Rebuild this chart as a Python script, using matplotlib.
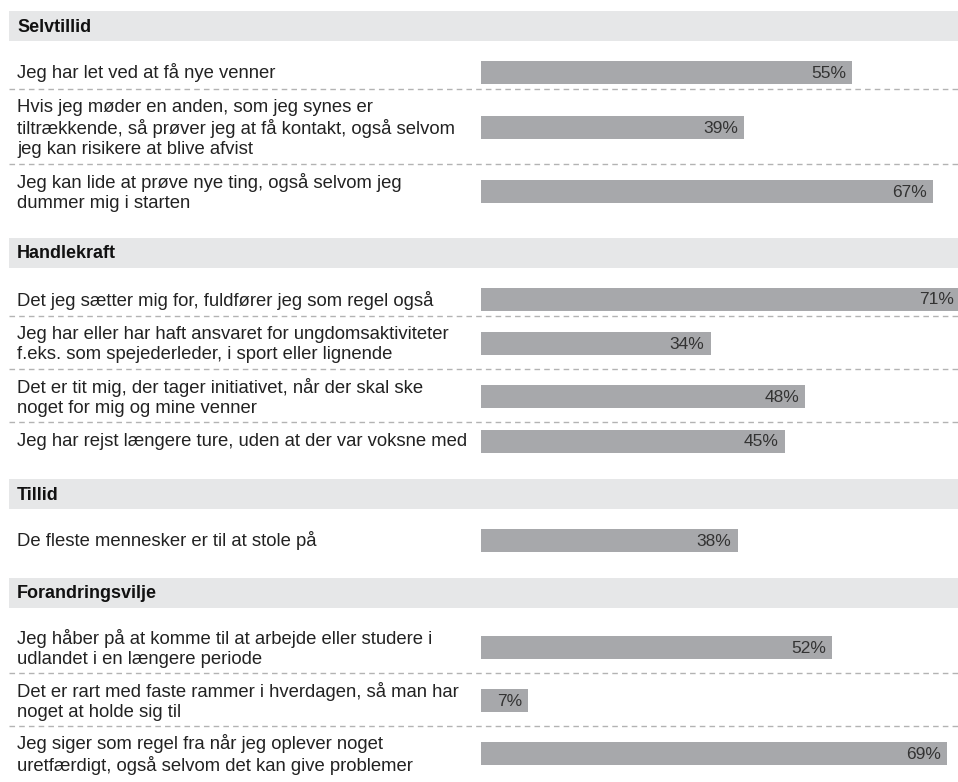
import matplotlib.pyplot as plt
from matplotlib.patches import Rectangle

plt.rcParams['font.family'] = ['Liberation Sans', 'DejaVu Sans']

sections = ["Selvtillid", "Handlekraft", "Tillid", "Forandringsvilje"]

labels = [
    ["Jeg har let ved at få nye venner",
     "Hvis jeg møder en anden, som jeg synes er\ntiltrækkende, så prøver jeg at få kontakt, også selvom\njeg kan risikere at blive afvist",
     "Jeg kan lide at prøve nye ting, også selvom jeg\ndummer mig i starten"],
    ["Det jeg sætter mig for, fuldfører jeg som regel også",
     "Jeg har eller har haft ansvaret for ungdomsaktiviteter\nf.eks. som spejederleder, i sport eller lignende",
     "Det er tit mig, der tager initiativet, når der skal ske\nnoget for mig og mine venner",
     "Jeg har rejst længere ture, uden at der var voksne med"],
    ["De fleste mennesker er til at stole på"],
    ["Jeg håber på at komme til at arbejde eller studere i\nudlandet i en længere periode",
     "Det er rart med faste rammer i hverdagen, så man har\nnoget at holde sig til",
     "Jeg siger som regel fra når jeg oplever noget\nuretfærdigt, også selvom det kan give problemer"],
]

values = [
    [55, 39, 67],
    [71, 34, 48, 45],
    [38],
    [52, 7, 69],
]

W, H = 958, 782
BAR_X0 = 481
PX_PER_PCT = 6.75

HEADER_BG = "#e6e7e8"
BAR_COLOR = "#a7a8ab"
TEXT_COLOR = "#222222"

fig = plt.figure(figsize=(W / 100, H / 100), dpi=100)
ax = fig.add_axes([0, 0, 1, 1])
ax.set_xlim(0, W)
ax.set_ylim(H, 0)
ax.axis("off")

axb = fig.add_axes([BAR_X0 / W, 0, (W - BAR_X0) / W, 1])
axb.set_xlim(0, (W - BAR_X0) / PX_PER_PCT)
axb.set_ylim(H, 0)
axb.axis("off")


def row_height(n):
    if n == 1:
        return 36
    return 9 + 22 * n


y = 11
for si, name in enumerate(sections):
    # grey section header
    ax.add_patch(Rectangle((9, y), W - 9, 30, color=HEADER_BG, lw=0))
    ax.text(17, y + 16, name, fontsize=13, fontweight="bold",
            color="#111111", va="center", ha="left")
    y += 30 + 12
    rows = labels[si]
    for ri, lab in enumerate(rows):
        n = lab.count("\n") + 1
        h = row_height(n)
        yc = y + h / 2 + 1
        ax.text(17, yc + 1, lab, fontsize=13.3, color=TEXT_COLOR,
                va="center", ha="left", linespacing=1.2)
        v = values[si][ri]
        axb.barh(yc, v, height=23, color=BAR_COLOR, left=0)
        axb.text(v - 6 / PX_PER_PCT, yc + 1, f"{v}%", fontsize=12.5,
                 color="#333333", va="center", ha="right")
        y += h
        if ri < len(rows) - 1:
            ax.plot([9, W], [y, y], color="#b3b3b3", lw=1,
                    linestyle=(0, (4, 3)))
    y += 21

fig.savefig("out.png", dpi=100)
